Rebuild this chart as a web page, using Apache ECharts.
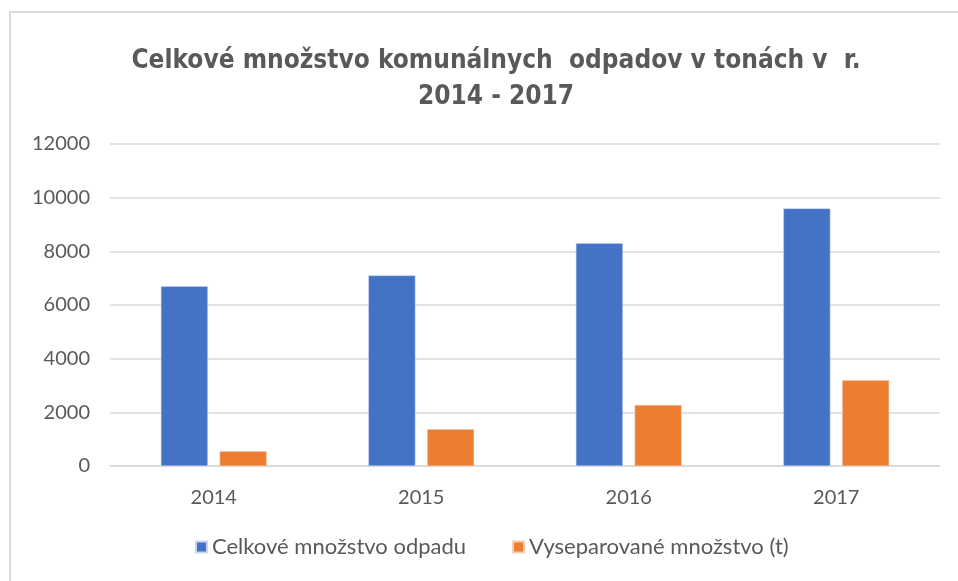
<!DOCTYPE html>
<html>
<head>
<meta charset="utf-8">
<script src="https://cdn.jsdelivr.net/npm/echarts@6/dist/echarts.min.js"></script>
<style>
  html, body { margin: 0; padding: 0; background: #fff; }
  #chart { width: 958px; height: 581px; }
</style>
</head>
<body>
<div id="chart"></div>
<script>
const years = ["2014", "2015", "2016", "2017"];
const totalWaste = [6700, 7100, 8300, 9600];
const separatedWaste = [550, 1370, 2270, 3200];
const seriesNames = ["Celkové množstvo odpadu", "Vyseparované množstvo (t)"];

const textFont = "Lato, 'Open Sans', sans-serif";
const textColor = "#595959";

const chart = echarts.init(document.getElementById("chart"));
chart.setOption({
  animation: false,
  backgroundColor: "#fff",
  title: {
    text: "Celkové množstvo komunálnych  odpadov v tonách v  r.\n2014 - 2017",
    left: 491,
    top: 38,
    textAlign: "center",
    textStyle: {
      fontFamily: "'Liberation Sans Narrow', 'DejaVu Sans Condensed', sans-serif",
      fontSize: 26,
      fontWeight: "bold",
      color: textColor,
      lineHeight: 36,
    },
  },
  graphic: [
    {
      type: "polyline",
      shape: { points: [[10, 581], [10, 12], [958, 12]] },
      style: { stroke: "#d9d9d9", lineWidth: 2, fill: null },
    },
  ],
  legend: {
    bottom: 18,
    left: 190,
    itemWidth: 11,
    itemHeight: 11,
    itemGap: 46,
    icon: "rect",
    textStyle: { fontFamily: textFont, fontSize: 22, color: textColor },
    data: seriesNames,
  },
  grid: {
    left: 110,
    right: 18,
    top: 144,
    bottom: 115,
  },
  xAxis: {
    type: "category",
    data: years,
    axisTick: { show: false },
    axisLine: { lineStyle: { color: "#d9d9d9", width: 1.5 } },
    axisLabel: { fontFamily: textFont, fontSize: 20, color: textColor, margin: 22 },
  },
  yAxis: {
    type: "value",
    min: 0,
    max: 12000,
    interval: 2000,
    axisLine: { show: false },
    axisTick: { show: false },
    splitLine: { lineStyle: { color: "#d9d9d9", width: 1.5 } },
    axisLabel: {
      fontFamily: textFont,
      fontSize: 20,
      color: textColor,
      margin: 20,
      formatter: (v) => String(v),
    },
  },
  series: [
    {
      name: seriesNames[0],
      type: "bar",
      data: totalWaste,
      barWidth: 47,
      barGap: "25%",
      itemStyle: { color: "#4472C4", borderColor: "#c9d5ee", borderWidth: 0.5 },
    },
    {
      name: seriesNames[1],
      type: "bar",
      data: separatedWaste,
      barWidth: 47,
      barGap: "25%",
      itemStyle: { color: "#ED7D31", borderColor: "#f6cdb0", borderWidth: 0.5 },
    },
  ],
});
</script>
</body>
</html>
